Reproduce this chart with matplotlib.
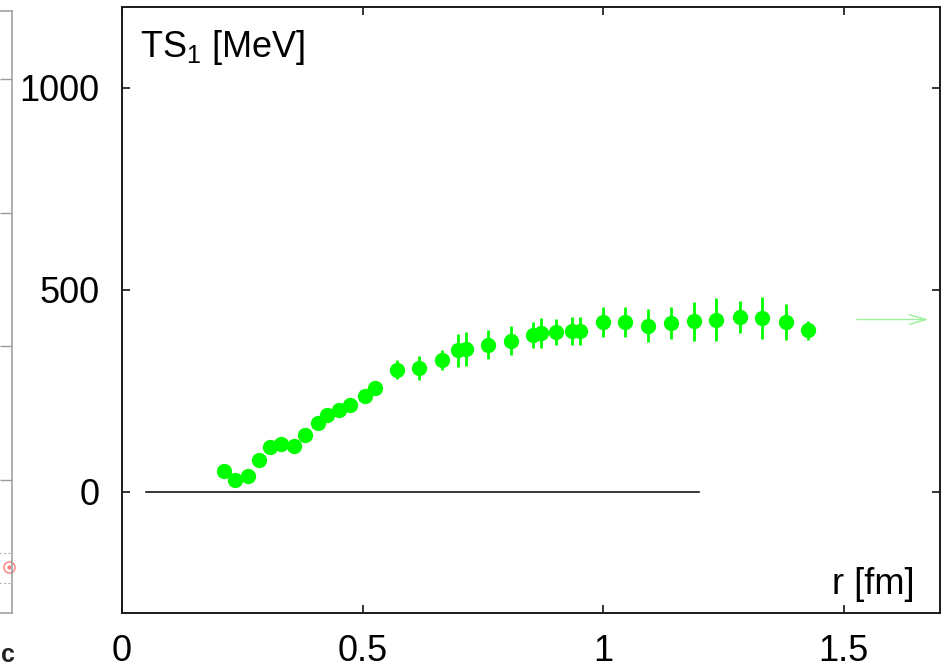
import numpy as np
import matplotlib
matplotlib.use('Agg')
import matplotlib.pyplot as plt

plt.rcParams['font.family'] = ['Liberation Sans', 'DejaVu Sans']
plt.rcParams['mathtext.fontset'] = 'custom'
plt.rcParams['mathtext.rm'] = 'Liberation Sans'
plt.rcParams['mathtext.it'] = 'Liberation Sans:italic'

# separation r [fm], TS_1 [MeV] and its error
r_fm = [0.212, 0.234, 0.261, 0.285, 0.307, 0.331, 0.357, 0.380, 0.407,
        0.427, 0.452, 0.473, 0.504, 0.525, 0.571, 0.618, 0.665, 0.698,
        0.714, 0.760, 0.809, 0.855, 0.871, 0.902, 0.935, 0.952, 0.999,
        1.046, 1.093, 1.140, 1.189, 1.235, 1.284, 1.331, 1.379, 1.426]
ts1 = [52, 29, 39, 79, 110, 118, 113, 141, 170, 189, 203, 215, 236, 257,
       302, 306, 325, 350, 353, 364, 374, 387, 393, 396, 397, 397, 420,
       420, 411, 418, 422, 426, 433, 430, 420, 399]
ts1_err = [6, 6, 6, 6, 6, 6, 6, 7, 8, 8, 8, 9, 14, 14, 24, 29, 25, 41, 41,
           35, 36, 32, 37, 32, 35, 35, 37, 38, 40, 40, 48, 53, 40, 53, 45, 24]

# asymptotic value marked by the arrow, and the zero reference line
asym_r = [1.527, 1.676]
asym_ts = 426
zero_r = [0.05, 1.2]

# neighbouring panel (only its right edge is in view)
side_ticks = [1, 2, 3, 4]
side_point = 0.345
side_band = [0.225, 0.449]

fig = plt.figure(figsize=(9.42, 6.69), dpi=100)

# --- neighbouring panel, mostly outside the figure
ax0 = fig.add_axes([-0.2, 0.0837, 0.2124, 0.8999])
ax0.set_xlim(0, 1)
ax0.set_ylim(0, 4.51)
for s in ax0.spines.values():
    s.set_color('#9a9a9a')
    s.set_linewidth(1.1)
ax0.yaxis.tick_right()
ax0.set_yticks(side_ticks)
ax0.tick_params(axis='y', direction='in', length=9, width=1.0,
                color='#9a9a9a', labelright=False)
ax0.set_xticks([])
for yb in side_band:
    ax0.plot([0.93, 0.995], [yb, yb], ls=(0, (2, 2)), color='#b0b0b0', lw=0.8)
ax0.plot([0.9865], [side_point], 'o', mfc='none', mec='#ff7a7a', mew=1.0,
         ms=8, clip_on=False)
ax0.plot([0.9865], [side_point], 'o', color='#ff7a7a', ms=2, clip_on=False)
fig.text(1.0 / 942, 1 - 655 / 669, 'c', ha='left', va='center',
         fontsize=18, fontweight='bold', color='#222222')

# --- main panel
ax = fig.add_axes([0.1295, 0.0842, 0.8684, 0.9053])
ax.set_xlim(0, 1.7)
ax.set_ylim(-300, 1200)

ax.plot(zero_r, [0, 0], color='black', lw=1.1)
ax.errorbar(r_fm, ts1, yerr=ts1_err, fmt='o', color='#00ff00', ms=10,
            elinewidth=2.0, capsize=0, zorder=3)
ax.annotate('', xy=(asym_r[1], asym_ts), xytext=(asym_r[0], asym_ts),
            arrowprops=dict(arrowstyle='->,head_length=1.2,head_width=0.35',
                            color='#9af09a', lw=1.0, shrinkA=0, shrinkB=0))

ax.set_xticks([0, 0.5, 1, 1.5])
ax.set_xticklabels(['0', '0.5', '1', '1.5'])
ax.set_yticks([0, 500, 1000])
ax.tick_params(axis='both', direction='in', length=6, width=1.1,
               top=True, right=True, labelsize=26)
ax.tick_params(axis='x', pad=15)
ax.tick_params(axis='y', pad=16)
for s in ax.spines.values():
    s.set_linewidth(1.4)
    s.set_color('#1a1a1a')

ax.text(0.022, 0.9175, 'TS$_1$ [MeV]', transform=ax.transAxes,
        fontsize=26, ha='left', va='baseline')
ax.text(0.9694, 0.031, 'r [fm]', transform=ax.transAxes,
        fontsize=26, ha='right', va='baseline')

fig.savefig('out.png', dpi=100)
